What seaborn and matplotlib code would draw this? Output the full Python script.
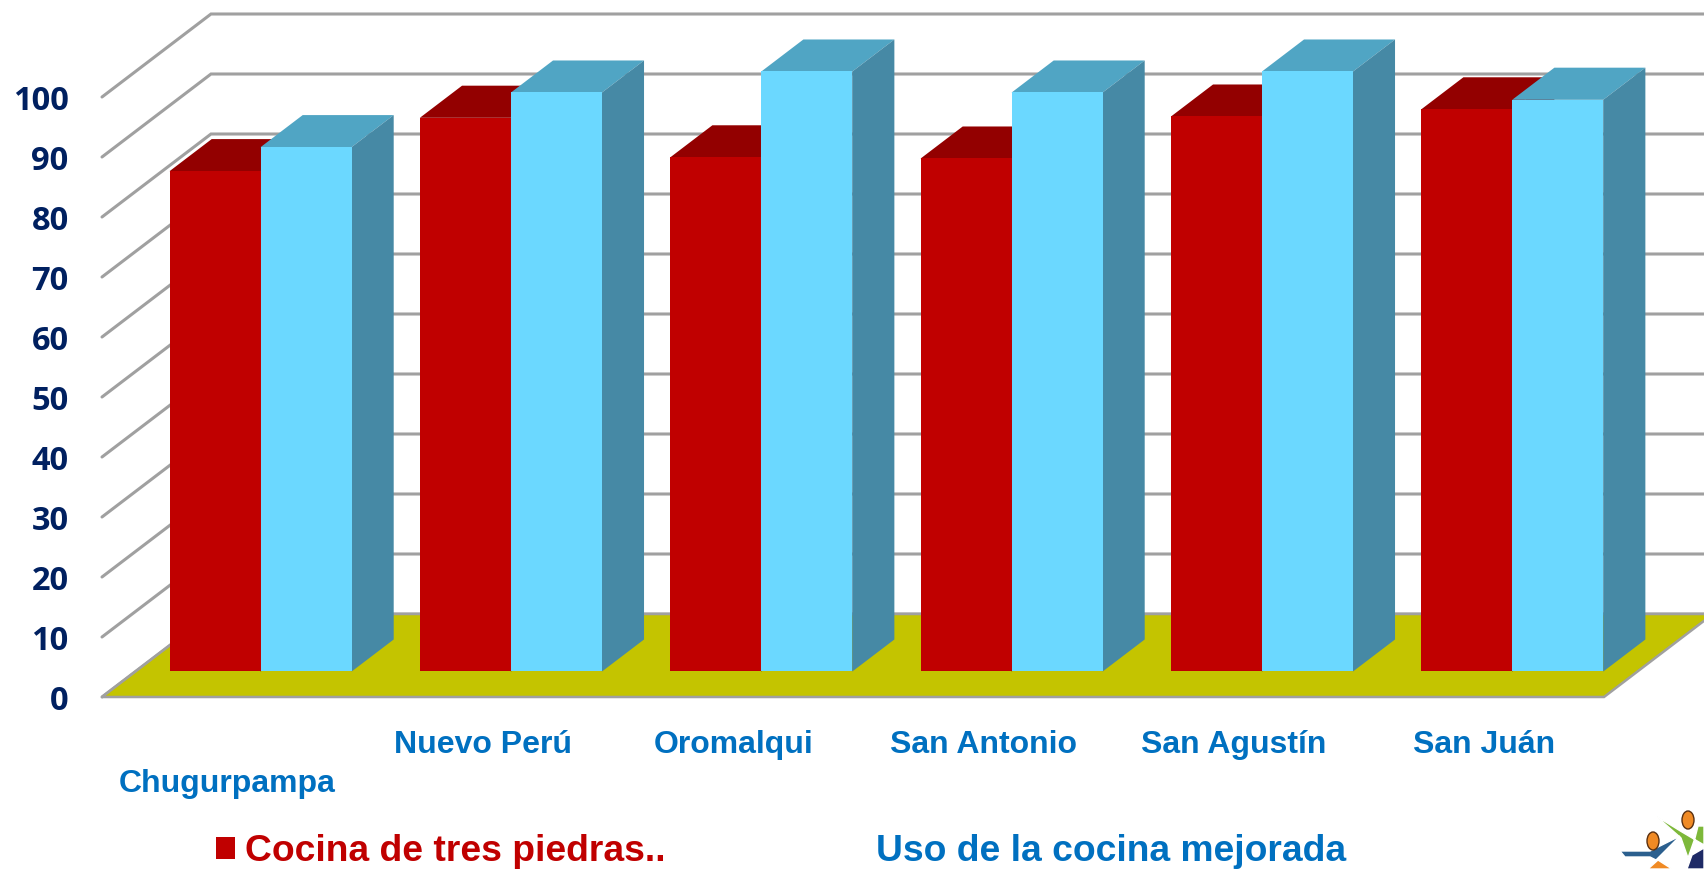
"""Uso de la cocina mejorada: barras con falso 3D sobre seaborn"""

import matplotlib
matplotlib.use("Agg")
import matplotlib.pyplot as plt
import pandas as pd
import seaborn as sns
from matplotlib.patches import Ellipse, Patch, Polygon
from matplotlib.transforms import ScaledTranslation

lugares = ["Chugurpampa", "Nuevo Perú", "Oromalqui", "San Antonio", "San Agustín", "San Juán"]
tres_piedras = [83.4, 92.3, 85.7, 85.5, 92.5, 93.7]
mejorada = [87.4, 96.5, 100, 96.5, 100, 95.3]
nombres = ["Cocina de tres piedras..", "Uso de la cocina mejorada"]
y_ticks = [0, 10, 20, 30, 40, 50, 60, 70, 80, 90, 100]

W, H = 1704, 869
LEFT, RIGHT, BOTTOM, TOP = 102, 1604, 697, 97
PX_X = (RIGHT - LEFT) / 6
PX_Y = (BOTTOM - TOP) / 100

ROJO, ROJO_TOP = "#C00000", "#930000"
CELESTE, CELESTE_TOP, CELESTE_SIDE = "#6BD8FF", "#50A5C4", "#4689A5"
PISO = "#C4C400"
GRIS = "#A0A0A0"
AZUL = "#0070C0"
NAVY = "#002060"


def depth(x, y, d):
    """Oblique projection: d=0 front of the floor, d=1 back wall"""
    return x + d * 109 / PX_X, y + d * 83 / PX_Y


def fig_xy(x, y):
    return x / W, 1 - y / H


sns.set_theme(style="white")
plt.rcParams["font.family"] = ["Liberation Sans", "DejaVu Sans"]

df = pd.DataFrame({
    "lugar": lugares * 2,
    "serie": [nombres[0]] * 6 + [nombres[1]] * 6,
    "valor": tres_piedras + mejorada,
})

fig = plt.figure(figsize=(W / 100, H / 100), dpi=100)
ax = fig.add_axes([LEFT / W, 1 - BOTTOM / H, (RIGHT - LEFT) / W, (BOTTOM - TOP) / H])

sns.barplot(data=df, x="lugar", y="valor", hue="serie", palette=[ROJO, CELESTE],
            width=0.727, gap=0, saturation=1, legend=False, ax=ax)

# Move the bars into the depth of the floor and add their top and side
D_FRONT, D_BACK = 0.306, 0.693
colores = [(ROJO_TOP, "#8A0000"), (CELESTE_TOP, CELESTE_SIDE)]
for s, cont in enumerate(ax.containers):
    for bar in cont:
        x0, h, w = bar.get_x(), bar.get_height(), bar.get_width()
        fx, fy = depth(x0, 0, D_FRONT)
        bar.set_x(fx)
        bar.set_y(fy + 0.05)
        bar.set_clip_on(False)
        bar.set_zorder(6 + 2 * s)
        bar.set_edgecolor("none")
        x1 = x0 + w
        top = [depth(x0, h, D_FRONT), depth(x1, h, D_FRONT), depth(x1, h, D_BACK), depth(x0, h, D_BACK)]
        side = [depth(x1, 0, D_FRONT), depth(x1, h, D_FRONT), depth(x1, h, D_BACK), depth(x1, 0, D_BACK)]
        ax.add_patch(Polygon(top, closed=True, fc=colores[s][0], ec="none", clip_on=False, zorder=5 + 2 * s))
        ax.add_patch(Polygon(side, closed=True, fc=colores[s][1], ec="none", clip_on=False, zorder=5 + 2 * s))

# Floor and walls
piso = [depth(-0.5, 0, 0), depth(5.5, 0, 0), depth(5.5, 0, 1), depth(-0.5, 0, 1)]
ax.add_patch(Polygon(piso, closed=True, fc=PISO, ec=GRIS, lw=1.8, clip_on=False, zorder=2))
for v in y_ticks:
    xb, yb = depth(-0.5, v, 1)
    ax.plot([-0.5, xb, 7], [v, yb, yb], color=GRIS, lw=2.2, clip_on=False, zorder=1,
            solid_joinstyle="miter")

ax.set_xlim(-0.5, 5.5)
ax.set_ylim(0, 100)
ax.set_yticks(y_ticks)
ax.set_xlabel("")
ax.set_ylabel("")
sns.despine(ax=ax, left=True, bottom=True)
ax.patch.set_visible(False)

ax.tick_params(axis="y", length=0, pad=24, labelsize=23.5, labelcolor=NAVY)
ax.tick_params(axis="x", length=0, pad=24, labelsize=23, labelcolor=AZUL)
for lab in ax.get_yticklabels():
    lab.set_fontfamily(["Open Sans", "DejaVu Sans"])
    lab.set_fontweight("bold")
for i, lab in enumerate(ax.get_xticklabels()):
    lab.set_fontweight("bold")
    dx = 3 if i == 0 else 5.5
    lab.set_transform(lab.get_transform() + ScaledTranslation(dx / 100, 0, fig.dpi_scale_trans))
ax.xaxis.get_major_ticks()[0].set_pad(52)

# Legend: the second entry has no visible key in the picture
handles = [Patch(fc=ROJO, ec="none"), Patch(fc="none", ec="none")]
fig.legend(handles, nombres, loc="lower left", bbox_to_anchor=fig_xy(216, 869), ncols=2,
           frameon=False, borderpad=0, borderaxespad=0, handlelength=0.51, handleheight=0.51,
           handletextpad=0.27, columnspacing=4.87, labelcolor=[ROJO, AZUL],
           prop={"family": "Liberation Sans", "weight": "bold", "size": 26.8})

# Logo cut by the lower right corner
logo = [
    Polygon([fig_xy(*p) for p in [(1656, 816), (1682, 832), (1704, 845), (1704, 826), (1698, 826), (1695, 838), (1688, 858), (1681, 838)]], fc="#7DB83A"),
    Polygon([fig_xy(*p) for p in [(1620, 851), (1650, 851), (1680, 836), (1656, 860), (1650, 857), (1625, 857)]], fc="#2B5F8E"),
    Polygon([fig_xy(*p) for p in [(1648, 869), (1658, 860), (1672, 869)]], fc="#F08A24"),
    Polygon([fig_xy(*p) for p in [(1687, 869), (1692, 855), (1704, 848), (1704, 869)]], fc="#1E2A66"),
    Ellipse(fig_xy(1688, 820), 12 / W, 18 / H, fc="#F08A24", ec="#5A3010", lw=1),
    Ellipse(fig_xy(1653, 841), 12 / W, 18 / H, fc="#F08A24", ec="#5A3010", lw=1),
]
for forma in logo:
    forma.set_transform(fig.transFigure)
    fig.add_artist(forma)

fig.savefig("out.png", dpi=100)
